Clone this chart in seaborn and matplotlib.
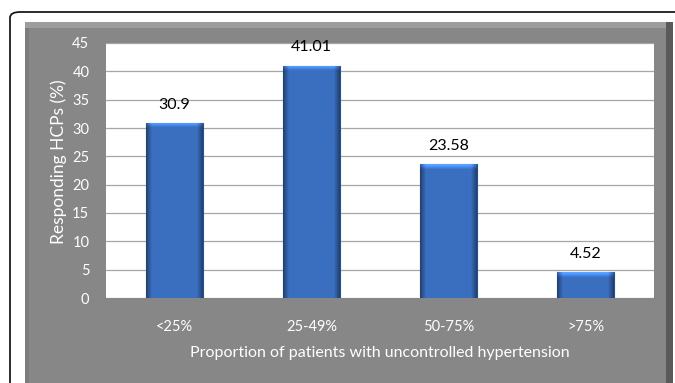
import numpy as np
import pandas as pd
import matplotlib
matplotlib.use("Agg")
import matplotlib.pyplot as plt
from matplotlib.patches import Rectangle, FancyBboxPatch
import seaborn as sns

categories = ["<25%", "25-49%", "50-75%", ">75%"]
responding = [30.9, 41.01, 23.58, 4.52]
value_labels = ["30.9", "41.01", "23.58", "4.52"]
yticks = [0, 5, 10, 15, 20, 25, 30, 35, 40, 45]

sns.set_theme(style="white")
plt.rcParams["font.family"] = ["Lato", "DejaVu Sans"]

W, H = 675, 383
fig = plt.figure(figsize=(W / 100, H / 100), dpi=100)
fig.patch.set_facecolor("white")

def px(x, y, w, h):
    return (x / W, 1 - (y + h) / H, w / W, h / H)

# outer rounded frame
fx, fy, fw, fh = px(10, 12, 700, 400)
frame = FancyBboxPatch((fx, fy), fw, fh, boxstyle="round,pad=0,rounding_size=0.015",
                       transform=fig.transFigure, facecolor="white",
                       edgecolor="#1a1a1a", linewidth=1.3, zorder=0)
fig.patches.append(frame)

# grey chart panel with bevelled edges
gx, gy, gw, gh = px(25, 22, 648, 400)
fig.patches.append(Rectangle((gx, gy), gw, gh, transform=fig.transFigure,
                             facecolor="#878787", edgecolor="none", zorder=1))
tx, ty, tw, th = px(25, 22, 648, 6)
fig.patches.append(Rectangle((tx, ty), tw, th, transform=fig.transFigure,
                             facecolor="#9d9d9d", edgecolor="none", zorder=1))
rx, ry, rw, rh = px(666, 22, 7, 400)
fig.patches.append(Rectangle((rx, ry), rw, rh, transform=fig.transFigure,
                             facecolor="#5a5a5a", edgecolor="none", zorder=1))
lx, ly, lw, lh = px(25, 28, 4, 400)
fig.patches.append(Rectangle((lx, ly), lw, lh, transform=fig.transFigure,
                             facecolor="#7c7c7c", edgecolor="none", zorder=1))

ax = fig.add_axes([106 / W, 1 - 298 / H, 548 / W, 255 / H])
ax.set_zorder(2)
ax.set_facecolor("white")

df = pd.DataFrame({"cat": categories, "val": responding})
sns.barplot(data=df, x="cat", y="val", color="#3a6fc0", width=0.41,
            edgecolor="#24518f", linewidth=0.8, ax=ax, zorder=3)

# bevelled gradient fill for each bar: darker sides, light top edge
prof_x = np.concatenate([np.linspace(0.6, 1, 6), np.ones(40), np.linspace(1, 0.6, 6)])
base = np.array([0x3a, 0x6f, 0xc0]) / 255
for p in ax.patches:
    x0, y0 = p.get_x(), p.get_y()
    w, h = p.get_width(), p.get_height()
    # number of rows so that the top bevel stays a few pixels tall
    ny = max(int(h / 45 * 255), 8)
    prof_y = np.ones(ny)
    prof_y[:5] = [1.5, 1.42, 1.3, 1.18, 1.08]
    shade = np.outer(prof_y, prof_x)
    img = np.clip(base[None, None, :] * shade[:, :, None], 0, 1)
    im = ax.imshow(img, extent=[x0, x0 + w, y0, y0 + h], aspect="auto",
                   origin="upper", zorder=3.5, interpolation="bilinear")
    im.set_clip_path(p)

for i, (v, t) in enumerate(zip(responding, value_labels)):
    ax.text(i, v + 2.0, t, ha="center", va="bottom", fontsize=11.5, color="black", zorder=5)

ax.set_ylim(0, 45)
ax.set_xlim(-0.5, 3.5)
ax.set_yticks(yticks)
ax.yaxis.grid(True, color="#a6a6a6", linewidth=0.9)
ax.set_axisbelow(True)
for s in ax.spines.values():
    s.set_visible(False)
ax.tick_params(axis="y", length=0, pad=12, labelsize=10.5, labelcolor="white")
ax.tick_params(axis="x", length=0, pad=16, labelsize=10.5, labelcolor="white")
ax.set_xlabel("Proportion of patients with uncontrolled hypertension",
              color="white", fontsize=11.5)
ax.set_ylabel("Responding HCPs (%)", color="white", fontsize=12.5)
ax.xaxis.set_label_coords(0.5, -0.19)
ax.yaxis.set_label_coords(-0.072, 0.533)

fig.savefig("out.png", dpi=100)
